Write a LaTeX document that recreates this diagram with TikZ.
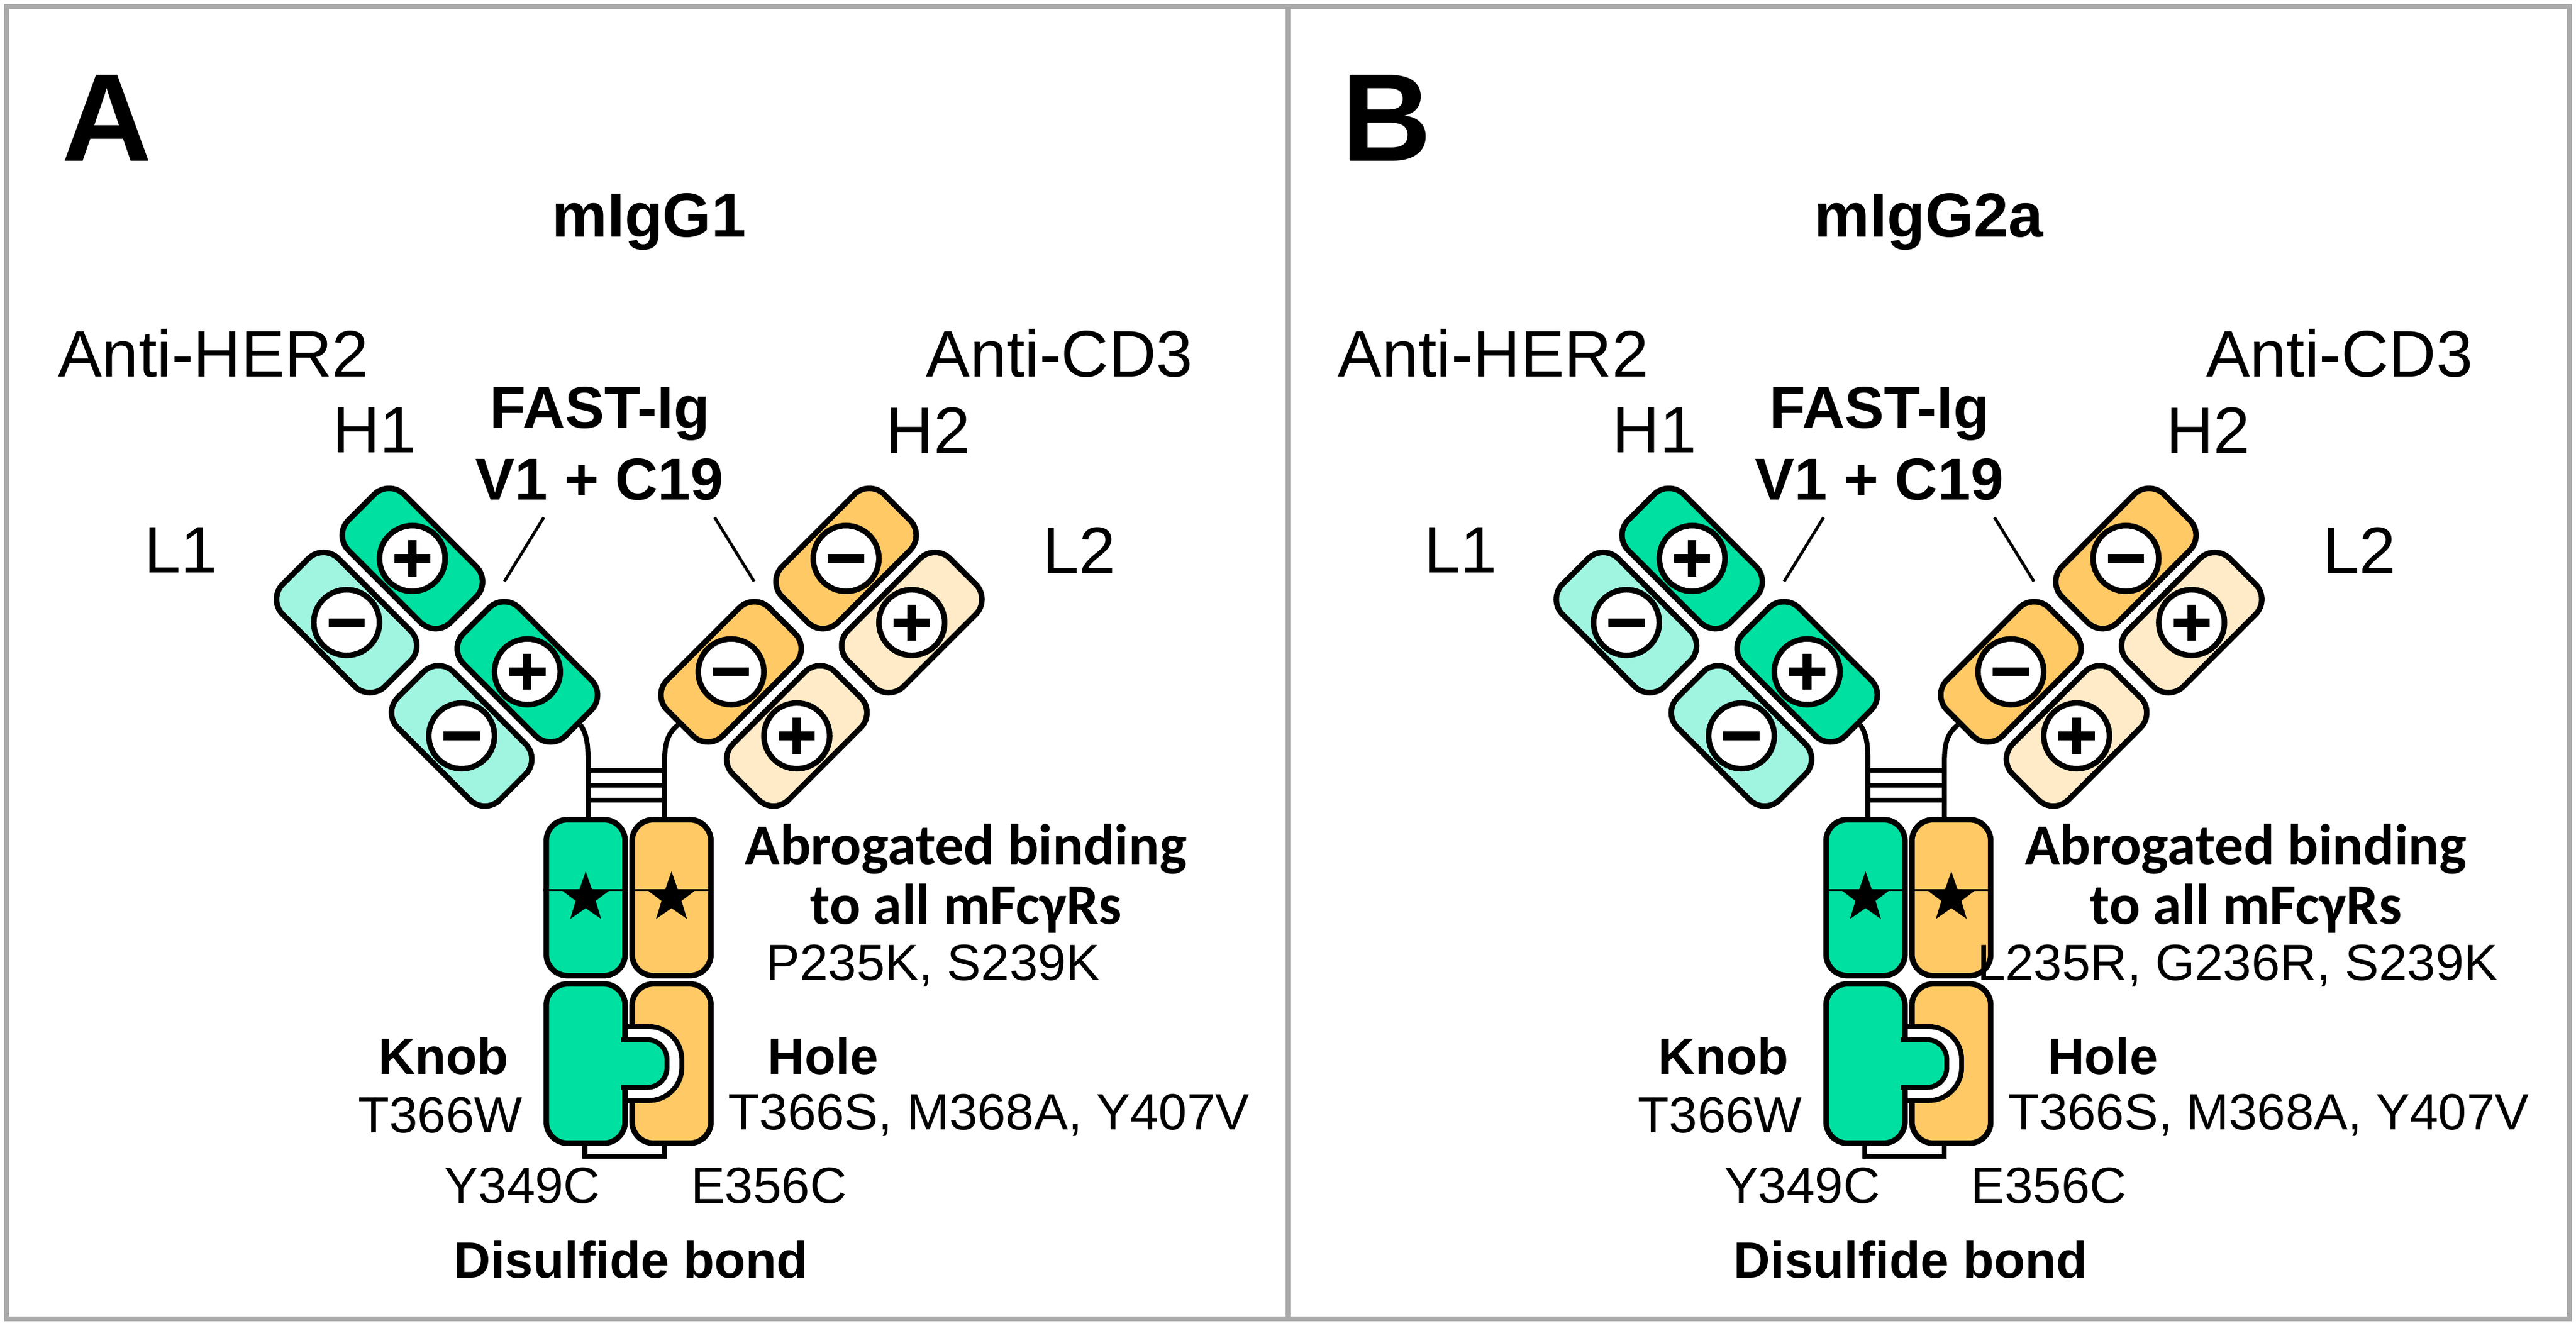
\documentclass[tikz,border=0pt]{standalone}
\usepackage{fontspec}
\setmainfont{Liberation Sans}
\newfontfamily\calib{Carlito}
\usetikzlibrary{shapes.geometric}
\definecolor{hgreen}{RGB}{0,224,160}
\definecolor{lgreen}{RGB}{160,245,225}
\definecolor{horange}{RGB}{255,201,102}
\definecolor{lorange}{RGB}{255,235,200}
\definecolor{frame}{RGB}{170,170,170}
\tikzset{
  dom/.style={rectangle,draw,line width=1.7pt,rounded corners=6.5pt,minimum width=44pt,minimum height=24pt,inner sep=0pt},
  fc/.style={rectangle,draw,line width=1.7pt,rounded corners=6.5pt,minimum width=24pt,inner sep=0pt},
  chg/.style={circle,draw,fill=white,line width=1.7pt,minimum size=20pt,inner sep=0pt},
  plus/.style={chg,path picture={\draw[line width=2.6pt]
      ([xshift=-5.5pt]path picture bounding box.center) -- ([xshift=5.5pt]path picture bounding box.center)
      ([yshift=-5.5pt]path picture bounding box.center) -- ([yshift=5.5pt]path picture bounding box.center);}},
  minus/.style={chg,path picture={\draw[line width=2.6pt]
      ([xshift=-5.5pt]path picture bounding box.center) -- ([xshift=5.5pt]path picture bounding box.center);}},
  star5/.style={star,star points=5,star point ratio=2.5,fill=black,minimum size=16pt,inner sep=0pt},
  lbl/.style={font=\fontsize{20}{22}\selectfont,inner sep=0pt},
  blbl/.style={font=\fontsize{18}{20}\selectfont\bfseries,inner sep=0pt},
  mut/.style={font=\fontsize{15.5}{17}\selectfont,inner sep=0pt},
  bmut/.style={font=\fontsize{15.5}{17}\selectfont\bfseries,inner sep=0pt},
  abro/.style={font=\fontsize{17.5}{19}\selectfont\calib\bfseries,inner sep=0pt}
}
\begin{document}
\begin{tikzpicture}[x=0.5pt,y=-0.5pt]
  \useasboundingbox (0,0) rectangle (1568,807);
  % frame
  \draw[frame,line width=1.5pt] (4,4) rectangle (1564,803);
  \draw[frame,line width=1.5pt] (784,4) -- (784,803);
  \foreach \dx/\pl/\iso/\mutx/\mutt in {0/A/mIgG1/568/{P235K, S239K},779/B/mIgG2a/583/{L235R, G236R, S239K}}{
  \begin{scope}[xshift=\dx*0.5pt]
    % labels
    \node[font=\fontsize{38}{40}\selectfont\bfseries,inner sep=0pt] (panel) at (65,72) {\pl};
    \node[blbl,font=\fontsize{19}{21}\selectfont\bfseries] (iso) at (395,135) {\iso};
    \node[lbl] (her) at (130,215) {Anti-HER2};
    \node[lbl] (cd) at (645,215) {Anti-CD3};
    \node[lbl] (lh1) at (228,262) {H1};
    \node[lbl] (lh2) at (565,262) {H2};
    \node[lbl] (ll1) at (110,335) {L1};
    \node[lbl] (ll2) at (657,335) {L2};
    \node[blbl] (fast) at (365,252) {FAST-Ig};
    \node[blbl] (vc) at (365,292) {V1 + C19};
    % left arm
    \node[dom,rotate=-45,fill=lgreen] (l1v) at (211,379) {};
    \node[dom,rotate=-45,fill=lgreen] (l1c) at (281,448) {};
    \node[dom,rotate=-45,fill=hgreen] (h1v) at (251,340) {};
    \node[dom,rotate=-45,fill=hgreen] (h1c) at (321,409) {};
    \node[minus] at (l1v) {};
    \node[minus] at (l1c) {};
    \node[plus] at (h1v) {};
    \node[plus] at (h1c) {};
    % right arm
    \node[dom,rotate=45,fill=lorange] (l2v) at (555,379) {};
    \node[dom,rotate=45,fill=lorange] (l2c) at (485,448) {};
    \node[dom,rotate=45,fill=horange] (h2v) at (515,340) {};
    \node[dom,rotate=45,fill=horange] (h2c) at (445,409) {};
    \node[plus] at (l2v) {};
    \node[plus] at (l2c) {};
    \node[minus] at (h2v) {};
    \node[minus] at (h2c) {};
    % pointers
    \coordinate (p1) at (307,354);
    \coordinate (p2) at (459,354);
    \draw[line width=0.9pt] (331,315) -- (p1);
    \draw[line width=0.9pt] (435,315) -- (p2);
    % hinge
    \coordinate (hl) at (358,499);
    \coordinate (hr) at (404.5,499);
    \draw[line width=1.5pt] (h1c.east) .. controls (358,448) and (358,456) .. (358,468) -- (hl);
    \draw[line width=1.5pt] (h2c.west) .. controls (404.5,448) and (404.5,456) .. (404.5,468) -- (hr);
    \foreach \y in {469,478,487}
      \draw[line width=1.5pt] (358,\y) -- (404.5,\y);
    % Fc
    \node[fc,fill=hgreen,minimum height=47.5pt] (ch2a) at (356.5,546.5) {};
    \node[fc,fill=horange,minimum height=47.5pt] (ch2b) at (408.75,546.5) {};
    \draw[line width=0.6pt] (ch2a.west |- 0,542) -- (ch2a.east |- 0,542);
    \draw[line width=0.6pt] (ch2b.west |- 0,542) -- (ch2b.east |- 0,542);
    \node[star5] at (ch2a) {};
    \node[star5] at (ch2b) {};
    % disulfide bracket
    \coordinate (sa) at (356,704);
    \coordinate (sb) at (404.5,704);
    \draw[line width=1.5pt] (356,690) -- (sa) -- (sb) -- (404.5,690);
    \node[fc,fill=horange,minimum height=48.5pt] (ch3b) at (408.75,647.5) {};
    \draw[line width=1.5pt,fill=white,rounded corners=10pt] (380,625) -- (415,625) -- (415,670) -- (380,670);
    \node[fc,fill=hgreen,minimum height=48.5pt] (ch3a) at (356.5,647.5) {};
    \draw[line width=1.5pt,fill=hgreen,rounded corners=6pt] (378,633) -- (406,633) -- (406,662) -- (378,662);
    \fill[hgreen] (376,635) rectangle (384,660);
    % texts
    \node[abro] (ab1) at (588,517) {Abrogated binding};
    \node[abro] (ab2) at (588,553) {to all mFcγRs};
    \node[mut] (m1) at (\mutx,588) {\mutt};
    \node[bmut] (knob) at (270,643) {Knob};
    \node[mut] (kw) at (268,679) {T366W};
    \node[bmut,anchor=west] (hole) at (467,643) {Hole};
    \node[mut,anchor=west] (hs) at (443,679) {T366S, M368A, Y407V};
    \node[mut] (y3) at (318,722) {Y349C};
    \node[mut] (e3) at (468,722) {E356C};
    \node[bmut] (ds) at (384,767) {Disulfide bond};
  \end{scope}}
\end{tikzpicture}
\end{document}
